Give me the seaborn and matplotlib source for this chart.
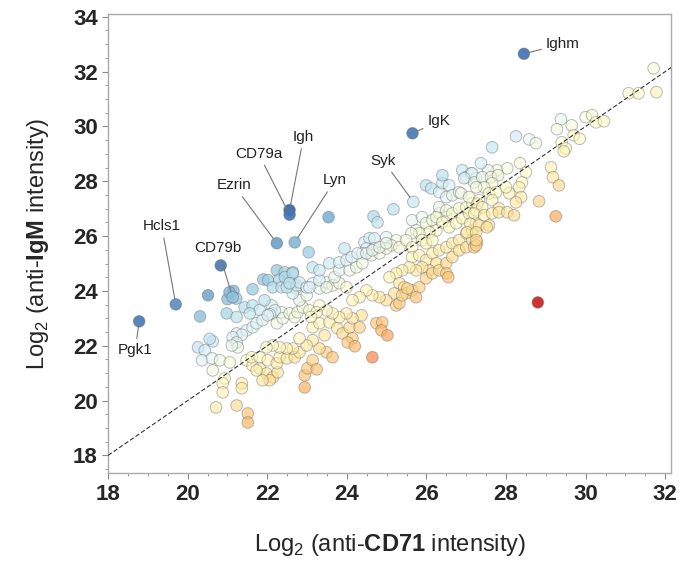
import numpy as np
import pandas as pd
import seaborn as sns
import matplotlib.pyplot as plt
from matplotlib.colors import TwoSlopeNorm
from matplotlib.ticker import MultipleLocator

# Log2 intensities (anti-CD71 on x, anti-IgM on y)
cd71 = [
    20.51, 20.31, 21.00, 21.15, 21.22, 21.05, 21.63, 21.90, 22.02, 22.24,
    22.44, 22.64, 22.30, 22.50, 22.62, 22.72, 22.14, 22.36, 20.98, 21.23,
    21.43, 21.63, 21.81, 22.11, 22.14, 22.36, 21.23, 21.48, 21.63, 20.63,
    20.83, 21.93, 22.19, 22.06, 21.56, 21.36, 21.13, 21.23, 21.26, 21.11,
    20.55, 20.26, 20.43, 20.36, 20.61, 20.81, 21.06, 20.63, 20.93, 20.88,
    20.88, 21.36, 21.36, 20.71, 21.23, 21.51, 21.51,
    21.73, 21.88, 22.01, 22.24, 22.39, 22.56, 22.69, 22.76, 22.89, 23.06,
    22.81, 22.99, 22.64, 22.49, 22.74,
    21.48, 21.63, 21.81, 21.98, 22.14, 22.26, 22.06, 21.88, 21.73, 21.61,
    21.81, 22.01, 22.24, 22.31, 22.49, 22.69, 22.81, 22.64, 22.49, 22.31,
    22.14, 21.98,
    22.94, 23.01, 23.14, 23.24, 22.94, 23.49, 23.64, 23.31, 23.14, 22.99,
    22.81, 23.44, 23.14, 23.31, 23.56, 23.76, 23.89, 24.07, 24.14, 24.02,
    24.20, 24.32, 24.37, 24.14, 23.99, 23.81, 23.64, 23.49, 23.31, 23.24,
    23.10, 24.64, 24.74, 24.89, 24.87, 25.02, 25.24, 25.19, 24.99, 24.82,
    24.64, 24.49, 24.32, 24.14,
    22.81, 22.99, 23.14, 23.31, 23.49, 23.64, 23.81, 23.99,
    24.67, 24.77, 25.17, 23.94, 23.04, 23.54, 24.44, 24.57, 24.69, 24.49,
    24.69, 24.39, 24.62, 24.82, 24.99, 25.24, 25.12, 25.32, 24.99, 25.64,
    25.74, 25.89, 25.99, 26.15, 26.32, 26.50, 26.25, 26.07, 25.82, 25.62,
    25.49, 25.64, 25.89, 25.99, 26.15,
    25.99, 26.12, 26.32, 26.40, 26.57, 26.50, 26.65, 26.82, 26.40, 26.90,
    27.00, 27.12, 27.25,
    26.32, 26.50, 26.65, 26.82, 27.00, 27.15, 26.25, 26.40, 26.57, 26.75,
    26.90, 27.07, 27.25,
    25.64, 25.82, 25.99, 26.15, 26.32, 26.50, 26.65, 26.82, 27.00, 27.15,
    27.25, 26.25, 26.07, 25.89, 25.74, 25.57, 25.39, 25.24, 25.07, 25.32,
    25.44, 25.49, 25.64, 25.82, 25.99, 26.15, 26.32, 26.50, 26.65, 26.82,
    27.00, 27.15, 26.50, 26.55,
    22.44, 22.64, 22.56, 23.06, 23.31, 23.49, 23.69, 23.81, 24.07, 24.24,
    24.39, 23.14, 23.31, 23.56, 23.81, 23.99, 24.12, 24.27, 24.49, 24.64,
    24.82, 24.99,
    31.71, 31.08, 31.33, 31.78, 29.38, 29.28, 29.65, 30.00, 30.16, 30.26,
    30.46, 28.25, 28.58, 28.75, 29.40, 29.50, 29.70, 29.85, 29.45, 27.65,
    29.13, 29.18, 29.33, 28.83, 29.25, 28.35, 28.50, 28.40, 28.33, 28.38,
    28.25, 28.08, 28.00, 28.03, 27.77, 27.55, 27.37, 27.15, 26.95, 27.20,
    27.40, 27.62, 27.80, 27.65, 27.45, 27.25, 26.87, 27.07, 27.32, 27.57,
    27.75, 27.65, 27.82, 27.28, 27.40, 27.20, 27.45, 27.65, 27.82, 28.03,
    28.20, 27.10, 27.32, 27.57, 27.02, 27.25, 27.52, 27.27, 27.20,
    25.74, 25.32, 25.39, 25.52, 27.25, 27.25, 28.80,
]
igm = [
    23.84, 23.07, 23.70, 24.00, 23.72, 23.95, 24.06, 24.42, 24.39, 24.75,
    24.68, 24.68, 24.40, 24.30, 24.28, 24.10, 24.13, 24.13, 23.18, 23.05,
    23.40, 23.47, 23.30, 23.47, 23.18, 23.22, 22.45, 22.56, 22.67, 22.16,
    24.93, 23.66, 23.29, 23.15, 23.18, 22.40, 22.31, 22.12, 21.94, 22.01,
    22.25, 21.94, 21.83, 21.47, 21.54, 21.47, 21.39, 21.10, 20.81, 20.63,
    20.30, 20.63, 20.45, 19.75, 19.82, 19.53, 19.20,
    22.82, 22.93, 23.11, 22.82, 23.00, 23.18, 23.04, 23.22, 23.40, 23.29,
    23.66, 23.84, 23.91, 24.13, 24.20,
    21.47, 21.28, 21.18, 20.99, 20.85, 21.03, 20.74, 20.74, 21.10, 21.58,
    21.58, 21.47, 21.36, 21.58, 21.54, 21.58, 21.76, 21.90, 21.90, 21.94,
    22.01, 21.94,
    20.92, 21.18, 21.47, 21.14, 20.48, 21.76, 21.58, 21.90, 22.20, 22.01,
    22.27, 22.38, 22.67, 22.82, 22.85, 22.64, 22.45, 22.67, 22.27, 22.12,
    21.98, 22.67, 23.11, 23.00, 23.18, 23.04, 23.18, 23.29, 23.47, 23.22,
    23.05, 21.58, 22.82, 22.85, 22.56, 22.38, 23.47, 23.91, 23.66, 23.77,
    23.84, 24.02, 23.77, 23.66,
    24.31, 24.13, 24.28, 24.09, 24.31, 24.20, 24.28, 24.13,
    26.72, 26.50, 26.98, 25.55, 25.41, 26.69, 25.77, 25.92, 25.92, 25.55,
    25.55, 25.37, 25.30, 25.37, 25.96, 25.85, 25.66, 25.59, 25.55, 26.58,
    26.21, 26.69, 26.47, 26.58, 26.83, 26.69, 26.21, 26.14, 26.10, 26.10,
    25.85, 25.59, 25.85, 25.74, 25.85,
    27.85, 27.74, 27.60, 27.93, 27.85, 27.42, 27.49, 27.60, 28.22, 28.40,
    28.15, 28.29, 28.11,
    27.05, 26.94, 26.83, 27.01, 27.05, 27.20, 26.69, 26.50, 26.32, 26.47,
    26.65, 26.83, 26.94,
    25.23, 25.30, 25.12, 25.37, 25.48, 25.59, 25.74, 25.85, 26.10, 26.21,
    26.47, 25.01, 24.75, 24.86, 24.75, 24.86, 24.75, 24.64, 24.50, 24.28,
    24.13, 23.91, 24.02, 24.13, 24.46, 24.64, 24.75, 25.01, 25.23, 25.48,
    25.59, 25.85, 24.64, 24.50,
    24.50, 24.64, 24.28, 24.13, 24.39, 24.13, 24.50, 24.75, 24.75, 24.86,
    25.01, 24.86, 24.75, 25.01, 25.04, 25.12, 25.23, 25.37, 25.37, 25.48,
    25.59, 25.74,
    32.12, 31.21, 31.21, 31.25, 30.26, 29.90, 30.04, 30.34, 30.41, 30.15,
    30.19, 29.64, 29.53, 29.39, 29.42, 29.20, 29.68, 29.55, 29.09, 29.24,
    28.51, 28.15, 27.85, 27.27, 26.72, 28.66, 28.33, 27.96, 27.78, 27.42,
    27.23, 27.56, 27.78, 28.47, 28.40, 28.40, 28.66, 28.29, 28.11, 27.96,
    28.15, 28.15, 28.22, 27.93, 27.78, 27.78, 27.56, 27.42, 27.31, 27.56,
    27.60, 27.31, 27.01, 27.18, 27.05, 26.83, 26.76, 26.83, 26.87, 26.87,
    26.76, 26.45, 26.39, 26.39, 26.14, 26.14, 26.32, 25.77, 25.59,
    23.77, 23.55, 23.84, 24.09, 25.66, 25.85, 23.58,
]

genes = ['Ighm', 'IgK', 'Syk', 'Igh', 'CD79a', 'Ezrin', 'Lyn', 'Hcls1', 'CD79b', 'Pgk1']
gene_cd71 = [28.45, 25.65, 25.67, 22.56, 22.56, 22.24, 22.69, 19.70, 21.13, 18.78]
gene_igm = [32.65, 29.75, 27.25, 26.95, 26.78, 25.74, 25.77, 23.51, 23.77, 22.89]

df = pd.DataFrame({'cd71': cd71 + gene_cd71, 'igm': igm + gene_igm})
df['diff'] = df['igm'] - df['cd71']

sns.set_style('white')
plt.rcParams['font.family'] = ['Liberation Sans', 'DejaVu Sans']
plt.rcParams['mathtext.fontset'] = 'custom'
plt.rcParams['mathtext.rm'] = 'Liberation Sans'
plt.rcParams['mathtext.bf'] = 'Liberation Sans:bold'

fig, ax = plt.subplots(figsize=(6.8, 5.62), dpi=100)
fig.subplots_adjust(left=0.159, right=0.987, top=0.975, bottom=0.158)

norm = TwoSlopeNorm(vmin=-6.3, vcenter=0.0, vmax=5.3)
sns.scatterplot(data=df, x='cd71', y='igm', hue='diff', palette='RdYlBu',
                hue_norm=norm, s=70, linewidth=0.7, legend=False, ax=ax, zorder=2)

# stronger points more opaque, near-diagonal ones translucent
coll = ax.collections[-1]
fc = np.array(coll.get_facecolor())
strength = np.clip(np.abs(norm(df['diff'].values) - 0.5) * 2.2, 0, 1)
fc[:, 3] = 0.5 + 0.5 * strength
coll.set_facecolor(fc)
coll.set_edgecolor((0.42, 0.42, 0.42, 0.45))

# identity line
ax.plot([18, 32.15], [18, 32.15], color='#333333', lw=0.8,
        linestyle=(0, (4, 2)), zorder=3)

# gene labels: offsets in pixels from the point, and alignment
offsets = [(22, 10), (15, 12), (-30, 41), (14, 73), (-31, 61),
           (-43, 58), (40, 62), (-14, 78), (-15, 49), (-4, -29)]
aligns = ['left', 'left', 'center', 'center', 'center',
          'center', 'center', 'center', 'center', 'center']
for name, gx, gy, off, ha in zip(genes, gene_cd71, gene_igm, offsets, aligns):
    ax.annotate(name, xy=(gx, gy), xytext=off, textcoords='offset pixels',
                ha=ha, va='center', fontsize=11, color='#222222',
                arrowprops=dict(arrowstyle='-', color='#777777', lw=0.8,
                                shrinkA=1, shrinkB=4))

ax.set_xlim(18, 32.15)
ax.set_ylim(17.35, 34.1)
ax.xaxis.set_major_locator(MultipleLocator(2))
ax.yaxis.set_major_locator(MultipleLocator(2))
ax.xaxis.set_minor_locator(MultipleLocator(0.5))
ax.yaxis.set_minor_locator(MultipleLocator(0.5))
ax.tick_params(which='both', direction='out', color='#888888', bottom=True, left=True)
ax.tick_params(which='major', length=4, width=0.8)
ax.tick_params(which='minor', length=2.5, width=0.6)
for lab in ax.get_xticklabels() + ax.get_yticklabels():
    lab.set_fontweight('bold')
    lab.set_fontsize(16)
for sp in ax.spines.values():
    sp.set_color('#aaaaaa')
    sp.set_linewidth(1.0)

ax.set_xlabel(r'Log$_2$ (anti-$\mathbf{CD71}$ intensity)', fontsize=17, labelpad=20)
ax.set_ylabel(r'Log$_2$ (anti-$\mathbf{IgM}$ intensity)', fontsize=17, labelpad=16)

fig.savefig('out.png', dpi=100)
